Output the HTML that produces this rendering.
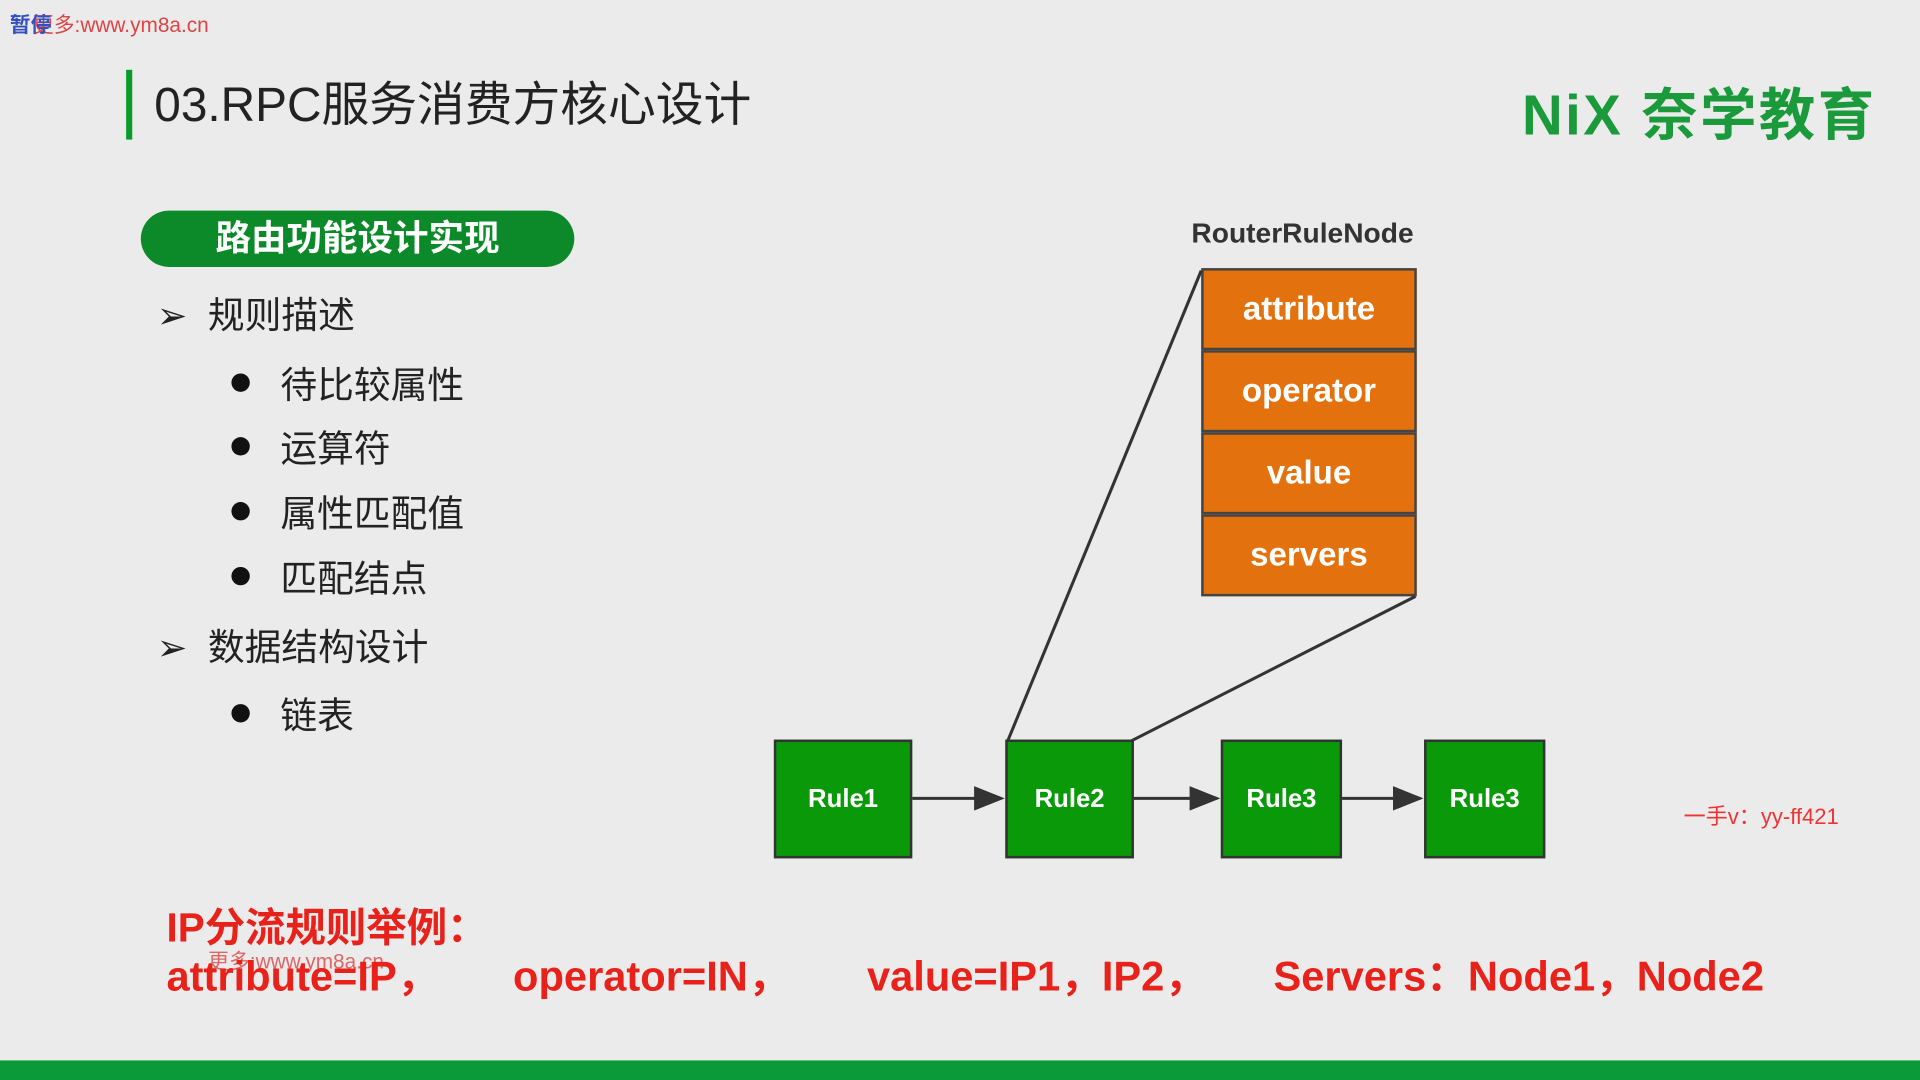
<!DOCTYPE html>
<html><head><meta charset="utf-8"><style>
html,body{margin:0;padding:0;width:1920px;height:1080px;overflow:hidden;background:#ebebeb;}
#s{position:absolute;left:0;top:0;width:1568px;height:882px;transform:scale(1.22449);transform-origin:0 0;background:#ebebeb;font-family:"Liberation Sans","Noto Sans CJK SC",sans-serif;}
.a{position:absolute;white-space:nowrap;}
.box{position:absolute;background:#099909;border:2px solid #333;color:#fff;font-weight:bold;font-size:21px;display:flex;align-items:center;justify-content:center;box-sizing:border-box;}
.or{position:absolute;left:981px;width:176px;height:67px;background:#e3720e;border:2px solid #444;box-sizing:border-box;color:#fff;font-weight:bold;font-size:27px;display:flex;align-items:center;justify-content:center;}
.cn{font-size:30px;color:#222;}
.dot{position:absolute;width:15px;height:15px;border-radius:50%;background:#111;}
</style></head><body><div id="s">
<div class="a" style="left:8px;top:6px;font-size:17px;color:#d44;">&nbsp;&nbsp;&nbsp;&nbsp;更多:www.ym8a.cn</div>
<div class="a" style="left:8px;top:6px;font-size:17px;color:#334fc0;font-weight:bold;">暂停</div>
<div class="a" style="left:103px;top:57px;width:5px;height:57px;background:#0a9a2a;"></div>
<div class="a" style="left:126px;top:55px;font-size:39px;color:#222;">03.RPC服务消费方核心设计</div>
<div class="a" style="left:1243px;top:58px;font-size:46px;color:#1a9a3a;font-weight:bold;letter-spacing:2px;">NiX 奈学教育</div>
<div class="a" style="left:115px;top:172px;width:354px;height:46px;border-radius:23px;background:#0c8a2a;color:#fff;font-size:29px;font-weight:bold;text-align:center;line-height:46px;">路由功能设计实现</div>
<div class="a cn" style="left:128px;top:233px;">➢&nbsp; 规则描述</div>
<div class="dot" style="left:189px;top:305px"></div><div class="a cn" style="left:229px;top:290px;">待比较属性</div>
<div class="dot" style="left:189px;top:357px"></div><div class="a cn" style="left:229px;top:342px;">运算符</div>
<div class="dot" style="left:189px;top:410px"></div><div class="a cn" style="left:229px;top:395px;">属性匹配值</div>
<div class="dot" style="left:189px;top:463px"></div><div class="a cn" style="left:229px;top:448px;">匹配结点</div>
<div class="a cn" style="left:128px;top:504px;">➢&nbsp; 数据结构设计</div>
<div class="dot" style="left:189px;top:575px"></div><div class="a cn" style="left:229px;top:560px;">链表</div>
<div class="a" style="left:973px;top:177px;font-size:23px;font-weight:bold;color:#333;">RouterRuleNode</div>
<div class="or" style="top:219px">attribute</div>
<div class="or" style="top:286px">operator</div>
<div class="or" style="top:353px">value</div>
<div class="or" style="top:420px">servers</div>
<svg class="a" style="left:0;top:0" width="1568" height="882">
<defs><marker id="m" markerWidth="10" markerHeight="8" refX="9" refY="4" orient="auto"><path d="M0,0 L10,4 L0,8z" fill="#333"/></marker></defs>
<g stroke="#333" stroke-width="2.5" fill="none">
<line x1="823" y1="605" x2="981" y2="221"/><line x1="924" y1="605" x2="1156" y2="487"/>
<line x1="745" y1="652" x2="818" y2="652" marker-end="url(#m)"/>
<line x1="926" y1="652" x2="994" y2="652" marker-end="url(#m)"/>
<line x1="1096" y1="652" x2="1160" y2="652" marker-end="url(#m)"/>
</g></svg>
<div class="box" style="left:632px;top:604px;width:113px;height:97px;">Rule1</div>
<div class="box" style="left:821px;top:604px;width:105px;height:97px;">Rule2</div>
<div class="box" style="left:997px;top:604px;width:99px;height:97px;">Rule3</div>
<div class="box" style="left:1163px;top:604px;width:99px;height:97px;">Rule3</div>
<div class="a" style="left:1375px;top:653px;font-size:18px;color:#e33;">一手v：yy-ff421</div>
<div class="a" style="left:136px;top:731px;font-size:33px;font-weight:bold;color:#e8221a;">IP分流规则举例：</div>
<div class="a" style="left:170px;top:771px;font-size:17px;color:#d66;">更多:www.ym8a.cn</div>
<div class="a" style="left:136px;top:770px;font-size:34px;font-weight:bold;color:#e8221a;">attribute=IP，</div>
<div class="a" style="left:419px;top:770px;font-size:34px;font-weight:bold;color:#e8221a;">operator=IN，</div>
<div class="a" style="left:708px;top:770px;font-size:34px;font-weight:bold;color:#e8221a;">value=IP1，IP2，</div>
<div class="a" style="left:1040px;top:770px;font-size:34px;font-weight:bold;color:#e8221a;">Servers：Node1，Node2</div>
<div class="a" style="left:0;top:866px;width:1568px;height:16px;background:#0a9a3a;"></div>
</div></body></html>
